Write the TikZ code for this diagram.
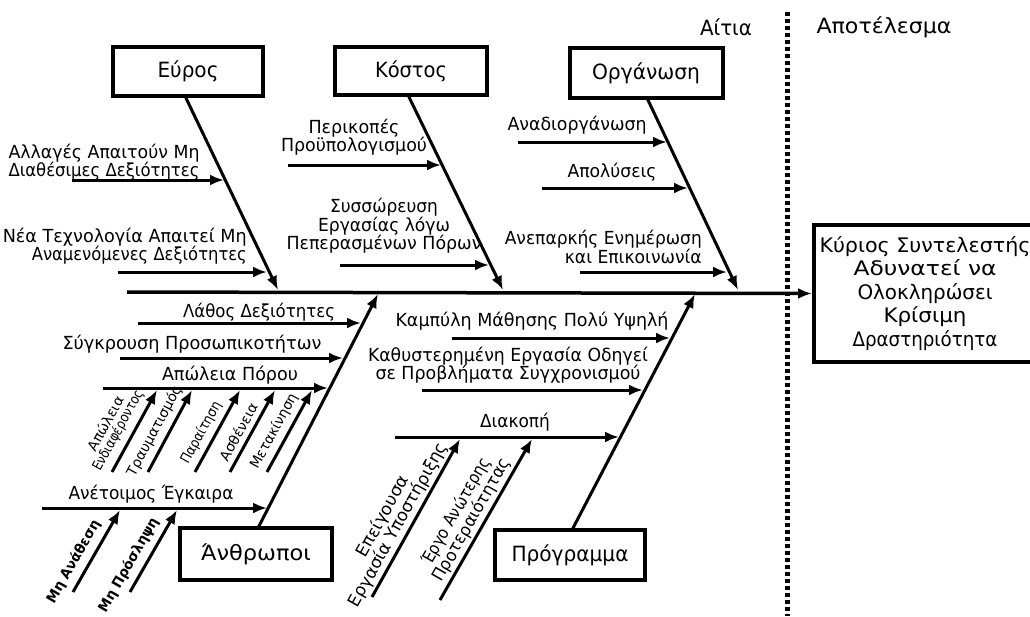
\documentclass[tikz,border=0pt]{standalone}
\usepackage{fontspec}
\usepackage{graphicx}
\setmainfont{DejaVu Sans}
\usetikzlibrary{arrows.meta}
\newlength\fitlen
\newcommand\fitw[2]{\settowidth\fitlen{#2}\pgfmathsetmacro\fitfac{#1/\fitlen}\scalebox{\fitfac}[1]{#2}}
\begin{document}
\begin{tikzpicture}[x=1pt,y=-1pt,
  box/.style={draw, line width=4pt, inner sep=2pt, font=\fontsize{21}{24}\selectfont, align=center},
  arr/.style={line width=3pt, -{Latex[length=14pt,width=11pt]}},
  lab/.style={font=\fontsize{18}{18.5}\selectfont, align=center, inner sep=0pt},
  dlab/.style={font=\fontsize{14}{14.5}\selectfont, align=center, inner sep=1pt, sloped, above=4pt},
  blab/.style={font=\bfseries\fontsize{14}{14}\selectfont, align=center, inner sep=1pt, sloped, above=5pt},
  plab/.style={font=\fontsize{17}{17.5}\selectfont, align=center, inner sep=1pt, sloped, above=1pt},
  title/.style={font=\fontsize{21}{24}\selectfont, inner sep=0pt}
]
\useasboundingbox (0,0) rectangle (1030,616);
\fill[white] (0,0) rectangle (1030,616);

% titles and divider
\node[title] (aitia) at (726,27) {\fitw{52}{Αίτια}};
\node[title] (apot) at (884,27) {\fitw{135}{Αποτέλεσμα}};
\coordinate (dtop) at (787,12);
\coordinate (dbot) at (787,616);
\draw[line width=5pt, dash pattern=on 4pt off 3pt] (dtop) -- (dbot);

% category boxes
\node[box, minimum width=150pt, minimum height=49pt] (euros) at (188,71) {\fitw{61}{Εύρος}};
\node[box, minimum width=152pt, minimum height=48pt] (kostos) at (411,71) {\fitw{72}{Κόστος}};
\node[box, minimum width=153pt, minimum height=50pt] (organ) at (646,73) {\fitw{108}{Οργάνωση}};
\node[box, minimum width=152pt, minimum height=52pt] (anthr) at (256,554) {\fitw{110}{Άνθρωποι}};
\node[box, minimum width=150pt, minimum height=50pt] (progr) at (570,555) {\fitw{117}{Πρόγραμμα}};

% effect box
\node[box, anchor=west, minimum width=222pt, minimum height=137pt, font=\fontsize{20}{23.5}\selectfont] (effect) at (812,293.5)
  {\fitw{211}{Κύριος Συντελεστής}\\ \fitw{143}{Αδυνατεί να}\\ \fitw{135}{Ολοκληρώσει}\\ \fitw{83}{Κρίσιμη}\\ \fitw{145}{Δραστηριότητα}};

% spine
\coordinate (spineL) at (127,292);
\draw[arr, line width=3.5pt] (spineL) -- (effect.west);

% main bones
\coordinate (b1s) at (185,96);  \coordinate (b1e) at (278,290);
\coordinate (b2s) at (408,95);  \coordinate (b2e) at (503,290);
\coordinate (b3s) at (647,98);  \coordinate (b3e) at (738,290);
\coordinate (b4s) at (258,528); \coordinate (b4e) at (378,294);
\coordinate (b5s) at (572,530); \coordinate (b5e) at (695,294);
\draw[arr] (b1s) -- (b1e);
\draw[arr] (b2s) -- (b2e);
\draw[arr] (b3s) -- (b3e);
\draw[arr] (b4s) -- (b4e);
\draw[arr] (b5s) -- (b5e);

% Εύρος causes
\coordinate (e1s) at (72,180);  \coordinate (e1e) at (224,180);
\coordinate (e2s) at (118,272); \coordinate (e2e) at (267,272);
\draw[arr] (e1s) -- (e1e);
\draw[arr] (e2s) -- (e2e);
\node[lab] (l1) at (104,162) {\fitw{191}{Αλλαγές Απαιτούν Μη}\\ \fitw{191}{Διαθέσιμες Δεξιότητες}};
\node[lab, align=right, anchor=east] (l2) at (247,246) {\fitw{244}{Νέα Τεχνολογία Απαιτεί Μη}\\ \fitw{215}{Αναμενόμενες Δεξιότητες}};

% Κόστος causes
\coordinate (k1s) at (288,165); \coordinate (k1e) at (441,165);
\coordinate (k2s) at (340,265); \coordinate (k2e) at (489,265);
\draw[arr] (k1s) -- (k1e);
\draw[arr] (k2s) -- (k2e);
\node[lab] (l3) at (354,137) {\fitw{91}{Περικοπές}\\ \fitw{146}{Προϋπολογισμού}};
\node[lab] (l4) at (384,226) {\fitw{108}{Συσσώρευση}\\ \fitw{132}{Εργασίας λόγω}\\ \fitw{195}{Πεπερασμένων Πόρων}};

% Οργάνωση causes
\coordinate (o1s) at (518,142); \coordinate (o1e) at (667,142);
\coordinate (o2s) at (542,188); \coordinate (o2e) at (688,188);
\coordinate (o3s) at (580,272); \coordinate (o3e) at (727,272);
\draw[arr] (o1s) -- (o1e);
\draw[arr] (o2s) -- (o2e);
\draw[arr] (o3s) -- (o3e);
\node[lab] (l5) at (577,125) {\fitw{139}{Αναδιοργάνωση}};
\node[lab] (l6) at (612,172) {\fitw{89}{Απολύσεις}};
\node[lab, align=right, anchor=east] (l7) at (702,247) {\fitw{197}{Ανεπαρκής Ενημέρωση}\\ \fitw{137}{και Επικοινωνία}};

% Άνθρωποι causes
\coordinate (a1s) at (138,323); \coordinate (a1e) at (361,323);
\coordinate (a2s) at (120,358); \coordinate (a2e) at (343,358);
\coordinate (a3s) at (103,388); \coordinate (a3e) at (328,388);
\coordinate (a4s) at (42,508);  \coordinate (a4e) at (267,508);
\draw[arr] (a1s) -- (a1e);
\draw[arr] (a2s) -- (a2e);
\draw[arr] (a3s) -- (a3e);
\draw[arr] (a4s) -- (a4e);
\node[lab] (l8) at (259,312) {\fitw{152}{Λάθος Δεξιότητες}};
\node[lab] (l9) at (192,344) {\fitw{259}{Σύγκρουση Προσωπικοτήτων}};
\node[lab] (l10) at (230,375) {\fitw{136}{Απώλεια Πόρου}};
\node[lab] (l11) at (151,494) {\fitw{165}{Ανέτοιμος Έγκαιρα}};

% Απώλεια Πόρου sub-causes
\coordinate (p1s) at (112,472); \coordinate (p1e) at (157,390);
\coordinate (p2s) at (148,472); \coordinate (p2e) at (192,390);
\coordinate (p3s) at (195,472); \coordinate (p3e) at (240,390);
\coordinate (p4s) at (230,472); \coordinate (p4e) at (275,390);
\coordinate (p5s) at (267,472); \coordinate (p5e) at (312,390);
\draw[arr] (p1s) -- node[dlab, pos=0.42, above=1pt, font=\fontsize{14}{13.5}\selectfont] (d1) {\fitw{60}{Απώλεια}\\ \fitw{90}{Ενδιαφέροντος}} (p1e);
\draw[arr] (p2s) -- node[dlab, pos=0.42] (d2) {\fitw{100}{Τραυματισμός}} (p2e);
\draw[arr] (p3s) -- node[dlab, pos=0.4] (d3) {\fitw{69}{Παραίτηση}} (p3e);
\draw[arr] (p4s) -- node[dlab, pos=0.42] (d4) {\fitw{64}{Ασθένεια}} (p4e);
\draw[arr] (p5s) -- node[dlab, pos=0.42] (d5) {\fitw{83}{Μετακίνηση}} (p5e);

% Ανέτοιμος Έγκαιρα sub-causes
\coordinate (r1s) at (73,592);  \coordinate (r1e) at (120,510);
\coordinate (r2s) at (130,592); \coordinate (r2e) at (177,510);
\draw[arr] (r1s) -- node[blab, pos=0.28] (m1) {\fitw{93}{Μη Ανάθεση}} (r1e);
\draw[arr] (r2s) -- node[blab, pos=0.24] (m2) {\fitw{106}{Μη Πρόσληψη}} (r2e);

% Πρόγραμμα causes
\coordinate (g1s) at (452,338); \coordinate (g1e) at (670,338);
\coordinate (g2s) at (422,390); \coordinate (g2e) at (643,390);
\coordinate (g3s) at (395,437); \coordinate (g3e) at (619,437);
\draw[arr] (g1s) -- (g1e);
\draw[arr] (g2s) -- (g2e);
\draw[arr] (g3s) -- (g3e);
\node[lab] (l12) at (532,321) {\fitw{273}{Καμπύλη Μάθησης Πολύ Υψηλή}};
\node[lab] (l13) at (508,365) {\fitw{280}{Καθυστερημένη Εργασία Οδηγεί}\\ \fitw{265}{σε Προβλήματα Συγχρονισμού}};
\node[lab] (l14) at (515,422) {\fitw{70}{Διακοπή}};

% Διακοπή sub-causes
\coordinate (q1s) at (372,597); \coordinate (q1e) at (460,439);
\coordinate (q2s) at (440,600); \coordinate (q2e) at (532,439);
\draw[arr] (q1s) -- node[plab, pos=0.42] (s1) {\fitw{90}{Επείγουσα}\\ \fitw{185}{Εργασία Υποστήριξης}} (q1e);
\draw[arr] (q2s) -- node[plab, pos=0.46] (s2) {\fitw{120}{Έργο Ανώτερης}\\ \fitw{139}{Προτεραιότητας}} (q2e);
\end{tikzpicture}
\end{document}
